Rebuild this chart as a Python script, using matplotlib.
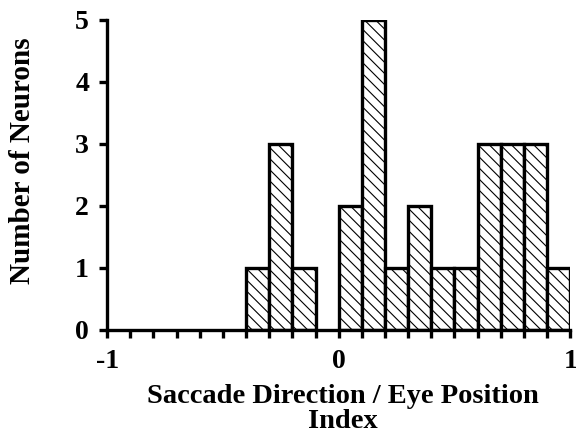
import numpy as np
import matplotlib
matplotlib.use('Agg')
import matplotlib.pyplot as plt

# histogram bins (width 0.1) and neuron counts
bin_edges = np.round(np.linspace(-1, 1, 21), 2)
counts = [0, 0, 0, 0, 0, 0, 1, 3, 1, 0,
          2, 5, 1, 2, 1, 1, 3, 3, 3, 1]

plt.rcParams['font.family'] = ['Liberation Serif', 'DejaVu Serif']
plt.rcParams['font.weight'] = 'bold'
plt.rcParams['hatch.linewidth'] = 0.8

fig = plt.figure(figsize=(5.76, 4.41), dpi=100)
ax = fig.add_axes([0.186, 0.252, 0.804, 0.703])

lefts = bin_edges[:-1]
width = np.diff(bin_edges)
for x, w, c in zip(lefts, width, counts):
    if c > 0:
        ax.bar(x, c, width=w, align='edge', facecolor='white',
               edgecolor='black', linewidth=2.4, hatch='\\\\\\')

ax.set_xlim(-1, 1)
ax.set_ylim(0, 5)
ax.spines['top'].set_visible(False)
ax.spines['right'].set_visible(False)
ax.spines['left'].set_linewidth(2.4)
ax.spines['bottom'].set_linewidth(2.4)

ax.set_xticks([-1, 0, 1])
ax.set_xticklabels(['-1', '0', '1'])
ax.set_xticks(bin_edges, minor=True)
ax.set_yticks(range(6))
ax.tick_params(axis='both', which='both', direction='out', width=2.4,
               length=6, labelsize=20)
ax.tick_params(axis='x', pad=8)
ax.tick_params(axis='y', pad=7)

ax.set_xlabel('Saccade Direction / Eye Position\nIndex', fontsize=20.5,
              fontweight='bold', linespacing=1.0)
ax.xaxis.set_label_coords(0.508, -0.175, transform=ax.transAxes)
ax.xaxis.label.set_va('top')
ax.set_ylabel('Number of Neurons', fontsize=21, fontweight='bold')
ax.yaxis.set_label_coords(-0.153, 0.545, transform=ax.transAxes)

fig.savefig('out.png', dpi=100)
